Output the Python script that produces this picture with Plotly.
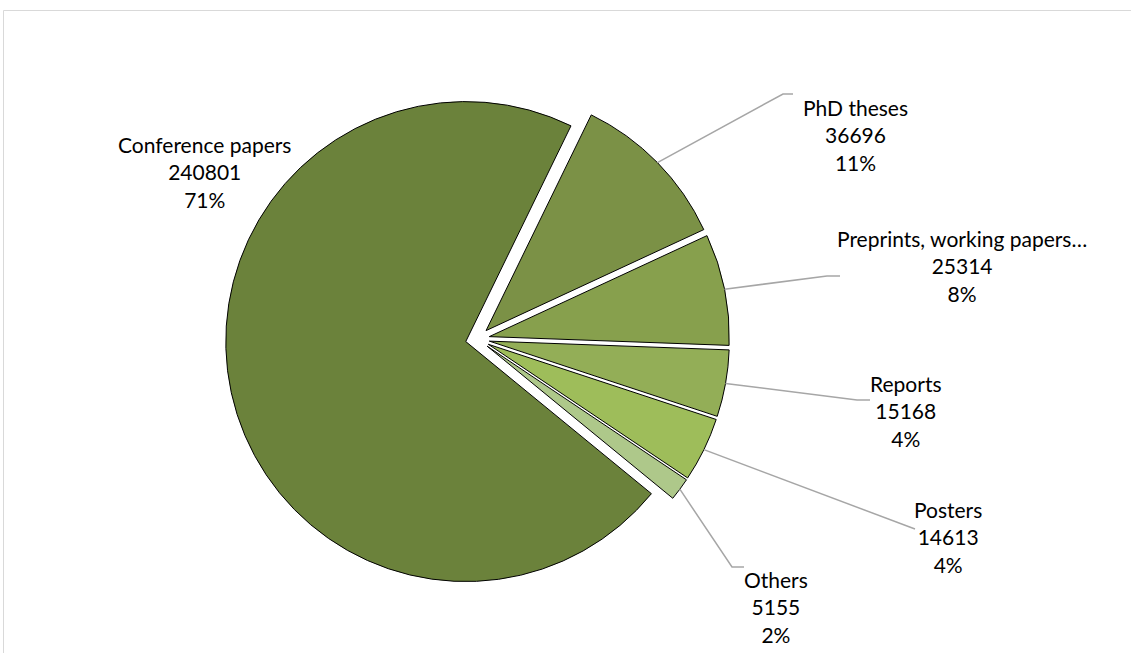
import math
import plotly.graph_objects as go

# Document types and counts
categories = ["Conference papers", "PhD theses", "Preprints, working papers…",
              "Reports", "Posters", "Others"]
counts = [240801, 36696, 25314, 15168, 14613, 5155]
colors = ["#6B823B", "#7B9146", "#87A04D", "#93AE57", "#9EBD5A", "#AEC88A"]

W, H = 1131, 653
PULL = 0.05
START_ANGLE = 26.0          # clockwise from 12 o'clock, where "PhD theses" begins
CX, CY, R = 477.5, 339.0, 240.0   # pie centre / radius in pixels

# Label block centres and leader-line elbows (pixels, top-left origin)
label_pos = [(204.5, 172), (855, 135), (961.5, 266), (906, 411), (947.5, 537), (776, 607)]
leader_elbows = [None,
                 [(783, 94), (793, 94)],
                 [(827, 276), (840, 276)],
                 [(857, 400), (870, 400)],
                 [(915, 529)],
                 [(732, 567), (744, 567)]]


def largest_remainder_pct(vals):
    tot = sum(vals)
    raw = [v * 100.0 / tot for v in vals]
    fl = [int(math.floor(x)) for x in raw]
    left = 100 - sum(fl)
    order = sorted(range(len(vals)), key=lambda i: raw[i] - fl[i], reverse=True)
    for i in order[:left]:
        fl[i] += 1
    return fl


total = sum(counts)
pcts = largest_remainder_pct(counts)

# rotation so the first slice (Conference papers) ends at START_ANGLE
rotation = START_ANGLE + 360.0 * (total - counts[0]) / total
rotation = ((rotation + 180) % 360) - 180

half = R * (1 + PULL)
domain_x = [(CX - half) / W, (CX + half) / W]
domain_y = [(H - CY - half) / H, (H - CY + half) / H]

fig = go.Figure(go.Pie(
    labels=categories,
    values=counts,
    sort=False,
    direction="clockwise",
    rotation=rotation,
    pull=[PULL] * len(counts),
    marker=dict(colors=colors, line=dict(color="#000000", width=1)),
    textinfo="none",
    hoverinfo="label+value+percent",
    showlegend=False,
    domain=dict(x=domain_x, y=domain_y),
))


def px(x, y):
    return x / W, 1 - y / H


annotations = []
shapes = []
angle = rotation
for i, (name, v) in enumerate(zip(categories, counts)):
    span = 360.0 * v / total
    mid = math.radians(angle + span / 2)
    angle += span
    lx, ly = label_pos[i]
    ax_, ay_ = px(lx, ly)
    annotations.append(dict(
        x=ax_, y=ay_, xref="paper", yref="paper",
        text=f"{name}<br>{v}<br>{pcts[i]}%",
        showarrow=False, xanchor="center", yanchor="middle", align="center",
        font=dict(family="Lato, 'Open Sans', sans-serif", size=21, color="#000000"),
    ))
    if leader_elbows[i]:
        # leader starts on the outer arc of the (pulled) slice at its mid-angle
        rr = R * (1 + PULL)
        sx = CX + rr * math.sin(mid)
        sy = CY - rr * math.cos(mid)
        pts = [(sx, sy)] + leader_elbows[i]
        path = "M " + " L ".join(f"{px(x, y)[0]},{px(x, y)[1]}" for x, y in pts)
        shapes.append(dict(type="path", path=path, xref="paper", yref="paper",
                           line=dict(color="#A6A6A6", width=1.5)))

# chart-area border
shapes.append(dict(type="rect", xref="paper", yref="paper",
                   x0=3.5 / W, x1=1.02, y0=-0.02, y1=1 - 10.5 / H,
                   line=dict(color="#D9D9D9", width=1), fillcolor="rgba(0,0,0,0)",
                   layer="below"))

fig.update_layout(
    width=W, height=H,
    margin=dict(l=0, r=0, t=0, b=0),
    paper_bgcolor="#FFFFFF", plot_bgcolor="#FFFFFF",
    annotations=annotations, shapes=shapes,
)

fig.write_html("out.html", include_plotlyjs=True, config={"displayModeBar": False})
